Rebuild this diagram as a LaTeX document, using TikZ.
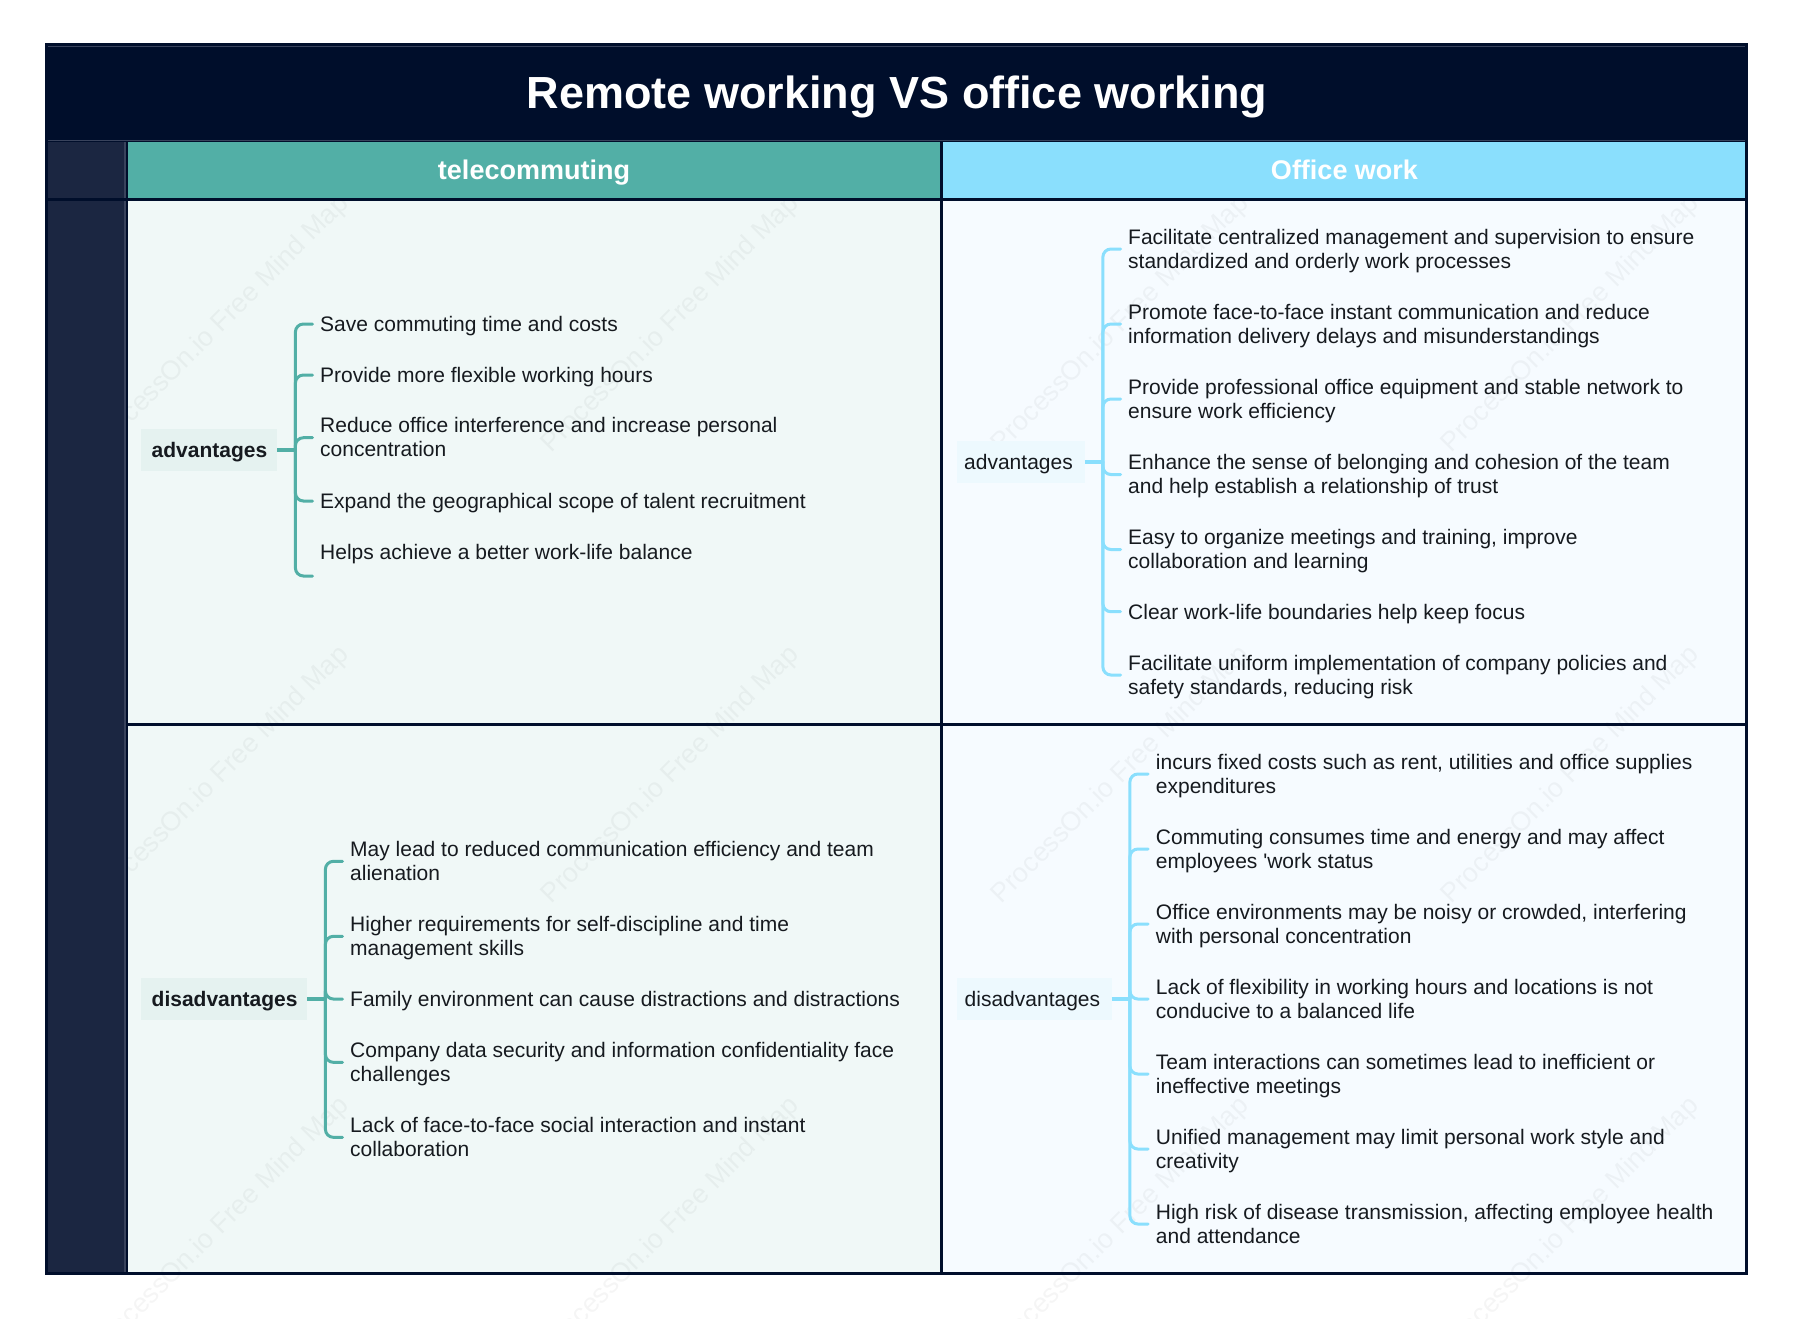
\documentclass[tikz,border=0pt]{standalone}
\usepackage{fontspec}
\setmainfont{Liberation Sans}
\newfontfamily\plainq{Liberation Sans}
\usetikzlibrary{calc}
\definecolor{navy}{HTML}{000E2B}
\definecolor{sidecol}{HTML}{1B2641}
\definecolor{edgeline}{HTML}{39435C}
\definecolor{tealhead}{HTML}{52AFA6}
\definecolor{bluehead}{HTML}{8ADFFD}
\definecolor{tealcell}{HTML}{F0F8F7}
\definecolor{bluecell}{HTML}{F6FBFF}
\definecolor{tealroot}{HTML}{E5F2F0}
\definecolor{blueroot}{HTML}{EDF9FE}
\definecolor{inktext}{HTML}{161A1F}
\newcommand{\linestrut}{\rule[-4.26pt]{0pt}{24.2pt}}
\newcommand{\headstrut}{\rule[-5pt]{0pt}{29.4pt}}
\newcommand{\titlestrut}{\rule[-6pt]{0pt}{44pt}}
\tikzset{
  item/.style={anchor=west,inner sep=0pt,align=left,text=inktext,
    font=\fontsize{21}{24.2}\selectfont,
    execute at begin node=\linestrut,execute at end node=\linestrut},
  rootbox/.style={anchor=west,inner ysep=0pt,minimum height=42pt,
    align=left,text=inktext,font=\fontsize{21}{24.2}\selectfont,
    execute at begin node=\linestrut},
  headtext/.style={inner sep=0pt,text=white,font=\fontsize{27}{30}\selectfont\bfseries,
    execute at begin node=\headstrut},
  titletext/.style={inner sep=0pt,text=white,font=\fontsize{45}{50}\selectfont\bfseries,
    execute at begin node=\titlestrut},
  mark text/.style={inner sep=0pt,rotate=45,text=black,text opacity=0.04,
    font=\fontsize{27}{30}\selectfont},
  branch/.style={line width=3pt,line cap=round,rounded corners=8pt},
  stub/.style={line width=4pt},
}
% colour, root node, list of target/vertical correction pairs
\newcommand{\fan}[3]{%
  \draw[stub,#1] (#2.east) -- ++(18,0);
  \foreach \tgt/\dy in {#3}{
    \draw[branch,#1] ($(#2.east)+(18,0)$) |- ($(\tgt.west)+(-7.5,\dy)$);
  }
}
\begin{document}
\begin{tikzpicture}[x=1pt,y=-1pt]
\useasboundingbox (0,0) rectangle (1794,1334);
\fill[white] (0,0) rectangle (1794,1334);
% cells
\fill[tealcell] (126,199) rectangle (941.5,1273);
\fill[bluecell] (941.5,199) rectangle (1746.5,1273);
% watermark
\begin{scope}
\clip (0,0) rectangle (1794,1318);
\foreach \i in {0,1,2,3}{
  \foreach \j in {0,1,2}{
    \node[mark text] (wm\i\j) at (221+450*\i,324+451*\j) {ProcessOn.io Free Mind Map};
  }
}
\end{scope}
% frame
\fill[navy] (45,43.3) rectangle (1748.3,142);
\fill[navy] (45,142) rectangle (127.7,1274.7);
\fill[navy] (45,1272) rectangle (1748.3,1274.7);
\fill[navy] (1745.3,142) rectangle (1748.3,1274.7);
\fill[navy] (126,198) rectangle (1748.3,200.7);
\fill[navy] (126,723.2) rectangle (1748.3,725.9);
\fill[navy] (940.2,142) rectangle (943,1274.7);
\fill[sidecol] (48,142) rectangle (124.3,198);
\fill[sidecol] (48,200.7) rectangle (124.3,1272);
\fill[edgeline] (124.3,142) rectangle (125.6,198);
\fill[edgeline] (124.3,200.7) rectangle (125.6,1272);
\fill[edgeline] (48,46) rectangle (1745.3,47);
\fill[edgeline] (48,139.6) rectangle (1745.3,141);
\fill[tealhead] (127.7,142) rectangle (940.2,198);
\fill[bluehead] (943,142) rectangle (1745.3,198);
% headings
\node[titletext] (title) at (897,94) {Remote working VS office working};
\node[headtext] (headT) at (534,170) {telecommuting};
\node[headtext] (headB) at (1344.5,170) {Office work};
% roots
\node[rootbox,inner xsep=10.5pt,fill=tealroot,text width=115pt,font=\fontsize{21}{24.2}\selectfont\bfseries] (ta) at (141,450) {advantages};
\node[rootbox,inner xsep=10.5pt,fill=tealroot,text width=145pt,font=\fontsize{21}{24.2}\selectfont\bfseries] (td) at (141,999) {disadvantages};
\node[rootbox,inner xsep=7.5pt,fill=blueroot,text width=113pt] (ba) at (956.5,462) {advantages};
\node[rootbox,inner xsep=8pt,fill=blueroot,text width=139pt] (bd) at (956.5,999) {disadvantages};
% telecommuting advantages
\node[item] (ta1) at (320,324) {Save commuting time and costs};
\node[item] (ta2) at (320,375) {Provide more flexible working hours};
\node[item] (ta3) at (320,439.4) {Reduce office interference and increase personal\\concentration};
\node[item] (ta4) at (320,501) {Expand the geographical scope of talent recruitment};
\node[item] (ta5) at (320,551.7) {Helps achieve a better work-life balance};
\coordinate (ta5end) at (320,576);
% telecommuting disadvantages
\node[item] (td1) at (350,863) {May lead to reduced communication efficiency and team\\alienation};
\node[item] (td2) at (350,938) {Higher requirements for self-discipline and time\\management skills};
\node[item] (td3) at (350,999) {Family environment can cause distractions and distractions};
\node[item] (td4) at (350,1064) {Company data security and information confidentiality face\\challenges};
\node[item] (td5) at (350,1139) {Lack of face-to-face social interaction and instant\\collaboration};
% office advantages
\node[item] (ba1) at (1128,250.7) {Facilitate centralized management and supervision to ensure\\standardized and orderly work processes};
\node[item] (ba2) at (1128,325.7) {Promote face-to-face instant communication and reduce\\information delivery delays and misunderstandings};
\node[item] (ba3) at (1128,400.7) {Provide professional office equipment and stable network to\\ensure work efficiency};
\node[item] (ba4) at (1128,476.2) {Enhance the sense of belonging and cohesion of the team\\and help establish a relationship of trust};
\node[item] (ba5) at (1128,551.2) {Easy to organize meetings and training, improve\\collaboration and learning};
\node[item] (ba6) at (1128,611.7) {Clear work-life boundaries help keep focus};
\node[item] (ba7) at (1128,676.7) {Facilitate uniform implementation of company policies and\\safety standards, reducing risk};
% office disadvantages
\node[item] (bd1) at (1155.7,775.7) {incurs fixed costs such as rent, utilities and office supplies\\expenditures};
\node[item] (bd2) at (1155.7,850.7) {Commuting consumes time and energy and may affect\\employees {\plainq'}work status};
\node[item] (bd3) at (1155.7,925.7) {Office environments may be noisy or crowded, interfering\\with personal concentration};
\node[item] (bd4) at (1155.7,1000.7) {Lack of flexibility in working hours and locations is not\\conducive to a balanced life};
\node[item] (bd5) at (1155.7,1075.7) {Team interactions can sometimes lead to inefficient or\\ineffective meetings};
\node[item] (bd6) at (1155.7,1150.7) {Unified management may limit personal work style and\\creativity};
\node[item] (bd7) at (1155.7,1225.7) {High risk of disease transmission, affecting employee health\\and attendance};
% connectors
\fan{tealhead}{ta}{ta1/0,ta2/0,ta3/-1.7,ta4/0,ta5end/0}
\fan{tealhead}{td}{td1/-1.7,td2/-1.7,td3/0,td4/-1.7,td5/-1.7}
\fan{bluehead}{ba}{ba1/-1.7,ba2/-1.7,ba3/-1.7,ba4/-1.7,ba5/-1.7,ba6/0,ba7/-1.7}
\fan{bluehead}{bd}{bd1/-1.7,bd2/-1.7,bd3/-1.7,bd4/-1.7,bd5/-1.7,bd6/-1.7,bd7/-1.7}
\end{tikzpicture}
\end{document}
